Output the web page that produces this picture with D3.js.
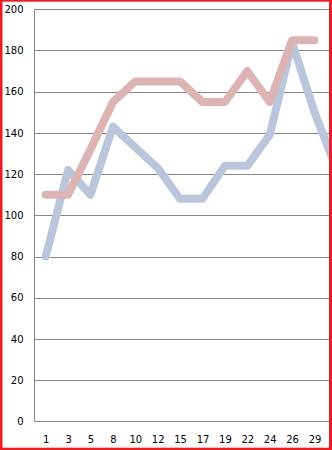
<!DOCTYPE html>
<html>
<head>
<meta charset="utf-8">
<script src="https://cdn.jsdelivr.net/npm/d3@7"></script>
<style>
body { margin: 0; background: #fff; overflow: hidden; }
svg { display: block; }
.tick-label { font-family: "DejaVu Sans", Verdana, sans-serif; font-size: 10px; fill: #000; }
</style>
</head>
<body>
<div class="main"></div>
<script>
//data (last category sits past the cropped right edge)
var days = ["1", "3", "5", "8", "10", "12", "15", "17", "19", "22", "24", "26", "29", "31"];
var visibleDays = days.slice(0, 13);
var blueValues = [80, 122, 110, 143, 133, 123, 108, 108, 124, 124, 139, 184, 150, 122];
var redValues = [110, 110, 132, 155, 165, 165, 165, 155, 155, 170, 155, 185, 185, null];
var yTicks = [0, 20, 40, 60, 80, 100, 120, 140, 160, 180, 200];

//Canvas config
var width = 332, height = 450;
var plot = {left: 34.5, top: 9.3, bottom: 421.3, step: 22.4};

var svg = d3.select(".main")
	.append("svg")
	.attr("width", width)
	.attr("height", height);

var xScale = d3.scalePoint()
	.domain(days)
	.range([plot.left, plot.left + plot.step * days.length])
	.padding(0.5);
var yScale = d3.scaleLinear()
	.domain([0, 200])
	.range([plot.bottom, plot.top]);

//gridlines
svg.append("g")
	.attr("class", "grid")
	.selectAll("line")
	.data(yTicks)
	.enter()
	.append("line")
	.attr("x1", plot.left)
	.attr("x2", width)
	.attr("y1", function(d) { return Math.round(yScale(d)) + 0.5; })
	.attr("y2", function(d) { return Math.round(yScale(d)) + 0.5; })
	.style("stroke", "#868686")
	.style("stroke-width", 1);

//y axis line
svg.append("line")
	.attr("x1", plot.left)
	.attr("x2", plot.left)
	.attr("y1", Math.round(plot.top) + 0.5)
	.attr("y2", Math.round(plot.bottom) + 0.5)
	.style("stroke", "#868686");

//y labels
svg.append("g")
	.selectAll("text")
	.data(yTicks)
	.enter()
	.append("text")
	.attr("class", "tick-label")
	.attr("x", 23.5)
	.attr("y", function(d) { return yScale(d) + 3.6; })
	.attr("text-anchor", "end")
	.text(function(d) { return d; });

//x labels
svg.append("g")
	.selectAll("text")
	.data(visibleDays)
	.enter()
	.append("text")
	.attr("class", "tick-label")
	.attr("x", function(d) { return xScale(d) + 0.5; })
	.attr("y", 443)
	.attr("text-anchor", "middle")
	.text(function(d) { return d; });

//lines
function drawLine(values, colour) {
	var line = d3.line()
		.defined(function(d) { return d != null; })
		.x(function(d, i) { return xScale(days[i]); })
		.y(function(d) { return yScale(d); });
	svg.append("path")
		.datum(values)
		.attr("d", line)
		.style("fill", "none")
		.style("stroke", colour)
		.style("stroke-width", 8)
		.style("stroke-linejoin", "round")
		.style("stroke-linecap", "round");
}
drawLine(blueValues, "#b9c6dc");
drawLine(redValues, "#dbb4b3");

//red frame round the picture
var frame = svg.append("g").style("fill", "#ed1c24");
frame.append("rect").attr("x", 0).attr("y", 0).attr("width", 2.5).attr("height", height);
frame.append("rect").attr("x", 0).attr("y", 0).attr("width", width).attr("height", 1.7);
frame.append("rect").attr("x", 329).attr("y", 0).attr("width", 3).attr("height", height);
frame.append("rect").attr("x", 0).attr("y", 447.7).attr("width", width).attr("height", 2.3);
</script>
</body>
</html>
